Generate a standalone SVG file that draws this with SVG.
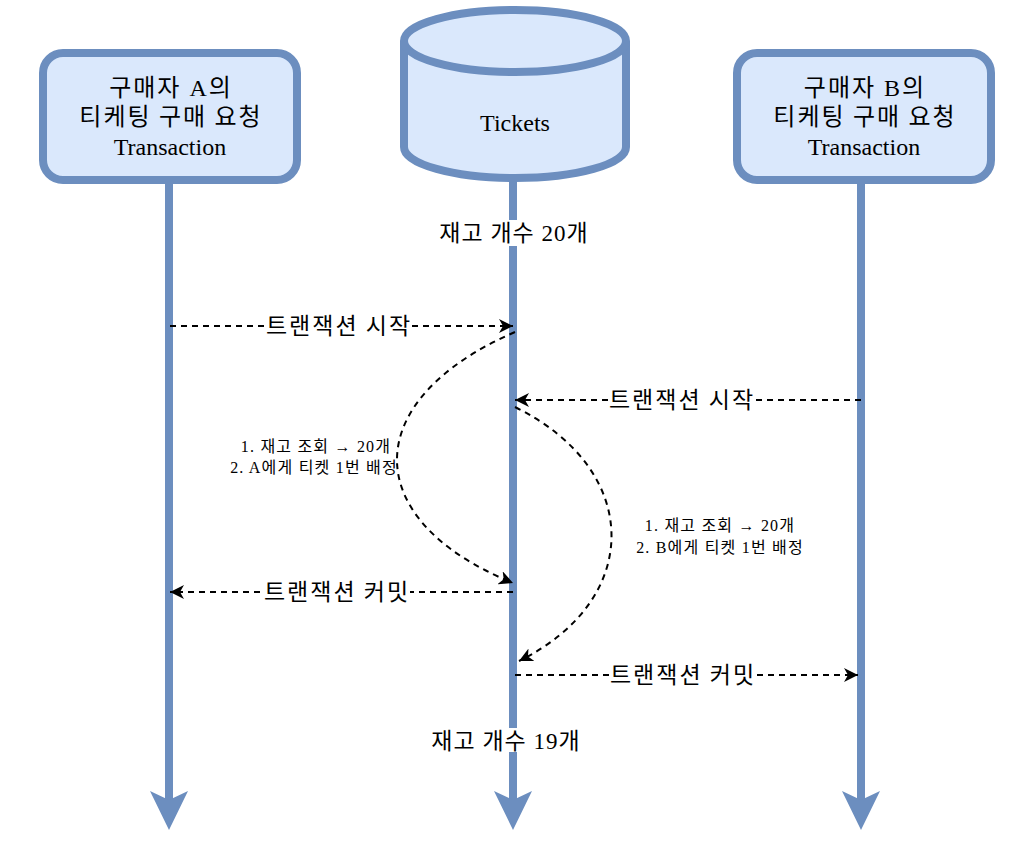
<svg xmlns="http://www.w3.org/2000/svg" width="1034" height="853" viewBox="0 0 1034 853">
<style>
.box{fill:#dae8fc;stroke:#6c8ebf;stroke-width:8}
.life{stroke:#6c8ebf;stroke-width:8;fill:none}
.head{fill:#6c8ebf}
.msg{stroke:#000;stroke-width:2;fill:none;stroke-dasharray:6 5}
.kr{font-family:"Noto Sans CJK KR","Noto Sans",sans-serif;fill:#000}
.mix{font-family:"Liberation Serif","Noto Sans CJK KR",serif;fill:#000}
.bg{fill:#fff}
.t24{font-size:24px;letter-spacing:2px}
.lat{font-size:24px}
.lbl{font-size:23px;letter-spacing:2px}
.stk{font-size:23px;letter-spacing:1px}
.note{font-size:16px;letter-spacing:1.2px}
</style>
<defs>
<marker id="arr" markerUnits="userSpaceOnUse" markerWidth="16" markerHeight="14" refX="14" refY="7" orient="auto" viewBox="0 0 16 14">
<path d="M0,0 L14,7 L0,14 L4,7 Z" fill="#000"/>
</marker>
</defs>
<rect width="1034" height="853" fill="#fff"/>
<g id="lifelines">
<line class="life" x1="169" y1="180" x2="169" y2="800"/>
<path class="head" d="M150,791 L169,830 L188,791 L169,800 Z"/>
<line class="life" x1="513" y1="178" x2="513" y2="800"/>
<path class="head" d="M494,791 L513,830 L532,791 L513,800 Z"/>
<line class="life" x1="861" y1="180" x2="861" y2="800"/>
<path class="head" d="M842,791 L861,830 L880,791 L861,800 Z"/>
</g>
<g id="buyerA">
<rect class="box" x="43" y="53" width="254" height="127" rx="20"/>
<text class="mix t24" x="171" y="96" text-anchor="middle">구매자 A의</text>
<text class="kr t24" x="171" y="125" text-anchor="middle">티케팅 구매 요청</text>
<text class="mix lat" x="170" y="155" text-anchor="middle">Transaction</text>
</g>
<g id="tickets">
<path class="box" d="M404,41 L404,147 A111,31 0 0 0 626,147 L626,41 A111,31 0 0 0 404,41 Z"/>
<path class="box" style="fill:none" d="M404,41 A111,31 0 0 0 626,41"/>
<text class="mix lat" x="515" y="131" text-anchor="middle">Tickets</text>
</g>
<g id="buyerB">
<rect class="box" x="737" y="53" width="254" height="127" rx="20"/>
<text class="mix t24" x="865" y="96" text-anchor="middle">구매자 B의</text>
<text class="kr t24" x="865" y="125" text-anchor="middle">티케팅 구매 요청</text>
<text class="mix lat" x="864" y="155" text-anchor="middle">Transaction</text>
</g>
<g id="stock20">
<rect class="bg" x="438" y="220" width="152" height="26"/>
<text class="mix stk" x="514" y="241" text-anchor="middle">재고 개수 20개</text>
</g>
<g id="stock19">
<rect class="bg" x="431" y="728" width="152" height="24"/>
<text class="mix stk" x="506" y="749" text-anchor="middle">재고 개수 19개</text>
</g>
<g id="connectors">
<line class="msg" x1="170" y1="326" x2="513" y2="326" marker-end="url(#arr)"/>
<line class="msg" x1="861" y1="400" x2="515" y2="400" marker-end="url(#arr)"/>
<line class="msg" x1="513" y1="592" x2="170" y2="592" marker-end="url(#arr)"/>
<line class="msg" x1="515" y1="675" x2="858" y2="675" marker-end="url(#arr)"/>
<path class="msg" d="M515,332 C358,400 358,520 513,583" marker-end="url(#arr)"/>
<path class="msg" d="M515,407 C643,470 643,600 519,661" marker-end="url(#arr)"/>
</g>
<g id="label-startA">
<rect class="bg" x="265" y="313" width="147" height="26"/>
<text class="kr lbl" x="339" y="334" text-anchor="middle">트랜잭션 시작</text>
</g>
<g id="label-startB">
<rect class="bg" x="608" y="387" width="147" height="26"/>
<text class="kr lbl" x="682" y="408" text-anchor="middle">트랜잭션 시작</text>
</g>
<g id="label-commitA">
<rect class="bg" x="263" y="579" width="147" height="26"/>
<text class="kr lbl" x="337" y="600" text-anchor="middle">트랜잭션 커밋</text>
</g>
<g id="label-commitB">
<rect class="bg" x="609" y="662" width="147" height="26"/>
<text class="kr lbl" x="683" y="683" text-anchor="middle">트랜잭션 커밋</text>
</g>
<g id="note-A">
<text class="mix note" x="316" y="452" text-anchor="middle">1. 재고 조회 → 20개</text>
<text class="mix note" x="314" y="473" text-anchor="middle">2. A에게 티켓 1번 배정</text>
</g>
<g id="note-B">
<text class="mix note" x="720" y="531" text-anchor="middle">1. 재고 조회 → 20개</text>
<text class="mix note" x="720" y="553" text-anchor="middle">2. B에게 티켓 1번 배정</text>
</g>
</svg>
